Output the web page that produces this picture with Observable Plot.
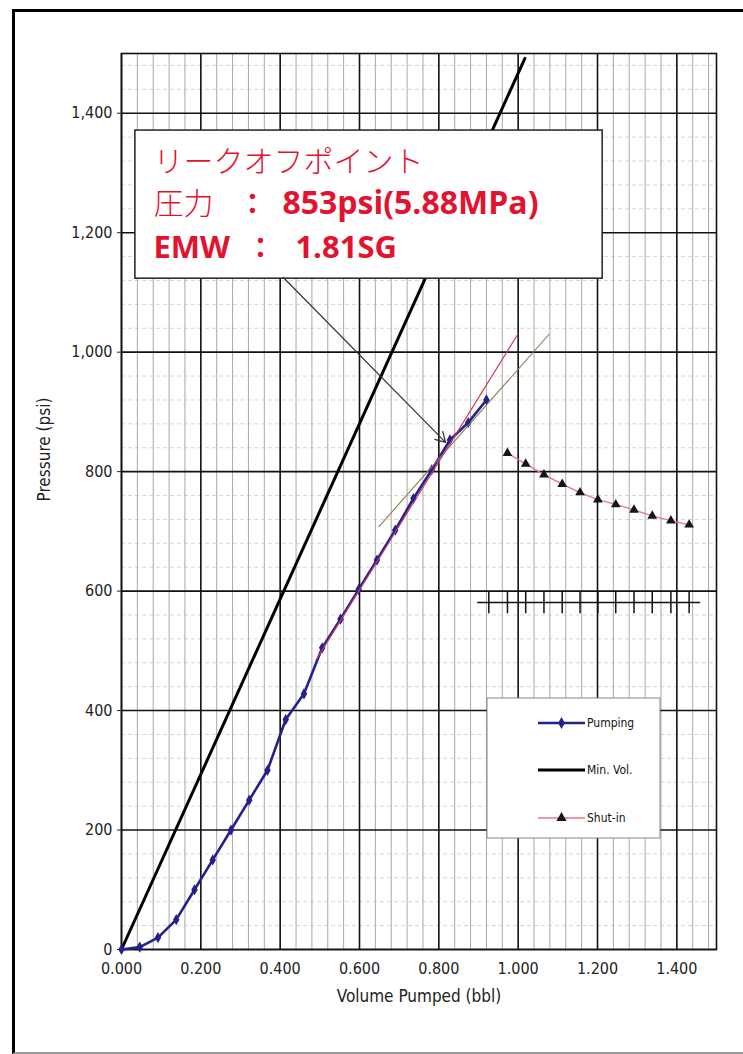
<!DOCTYPE html>
<html>
<head>
<meta charset="utf-8">
<script src="https://cdn.jsdelivr.net/npm/d3@7"></script>
<script src="https://cdn.jsdelivr.net/npm/@observablehq/plot@0.6"></script>
<style>
  body { margin: 0; background: #fff; }
  #wrap { position: relative; width: 743px; height: 1054px; overflow: hidden; background: #fff; }
  #wrap svg { position: absolute; left: 0; top: 0; }
  #border { position: absolute; left: 12px; top: 9px; width: 780px; height: 1040px;
            border-left: 3px solid #000; border-top: 3px solid #000; border-bottom: 2px solid #999;
            pointer-events: none; }
</style>
</head>
<body>
<div id="wrap"><div id="border"></div></div>
<script>
// Leak-off test: pumping record, minimum-volume reference and shut-in decline
const pumpVolume = [0, 0.046, 0.092, 0.138, 0.184, 0.230, 0.276, 0.322, 0.368, 0.414, 0.460,
                    0.506, 0.552, 0.598, 0.644, 0.690, 0.736, 0.782, 0.828, 0.874, 0.920];
const pumpPressure = [0, 4, 20, 50, 100, 150, 200, 250, 300, 385, 428,
                      505, 553, 603, 652, 702, 755, 803, 853, 882, 920];

const minVolVolume = [0, 1.017];
const minVolPressure = [0, 1492];

const shutinVolume = [0.973, 1.019, 1.065, 1.111, 1.156, 1.201, 1.246, 1.292, 1.338, 1.385, 1.431];
const shutinPressure = [831, 813, 795, 779, 765, 753, 745, 736, 726, 718, 711];

// shut-in time scale drawn across the 600 psi line
const shutinTickVolume = [0.926, 0.973, 1.019, 1.065, 1.111, 1.156, 1.201, 1.246, 1.292, 1.338, 1.385, 1.431];
const shutinScaleSpan = [0.898, 1.460];
const shutinScaleLevel = 581;
const shutinTickSpan = [562, 598];

// straight-line fits either side of the leak-off point
const steepFitVolume = [0.490, 0.999];
const steepFitPressure = [484, 1030];
const shallowFitVolume = [0.649, 1.078];
const shallowFitPressure = [708, 1030];

// leak-off callout
const leakOffVolume = 0.817;
const leakOffPressure = 849;
const calloutTail = [0.408, 1125];
const calloutBox = {x1: 0.035, x2: 1.213, y1: 1123, y2: 1371};
const calloutTitle = "リークオフポイント";
const pressureLabel = "圧力";
const pressureValue = "853psi(5.88MPa)";
const emwLabel = "EMW";
const emwValue = "1.81SG";

const xMajor = [0, 0.2, 0.4, 0.6, 0.8, 1.0, 1.2, 1.4];
const yMajor = [0, 200, 400, 600, 800, 1000, 1200, 1400];
const xMinor = d3.range(0, 1.5001, 0.04).filter(v => Math.abs(v / 0.2 - Math.round(v / 0.2)) > 1e-6);
const yMinor = d3.range(0, 1500.1, 40).filter(v => v % 200 !== 0);

const seriesNames = ["Pumping", "Min. Vol.", "Shut-in"];
const seriesColors = ["#24208c", "#000000", "#e0788a"];

const pumping = pumpVolume.map((v, i) => ({v, p: pumpPressure[i]}));
const minVol = minVolVolume.map((v, i) => ({v, p: minVolPressure[i]}));
const shutin = shutinVolume.map((v, i) => ({v, p: shutinPressure[i]}));
const steepFit = steepFitVolume.map((v, i) => ({v, p: steepFitPressure[i]}));
const shallowFit = shallowFitVolume.map((v, i) => ({v, p: shallowFitPressure[i]}));

const red = "#e3132f";
const narrow = "'Liberation Sans Narrow', 'DejaVu Sans Condensed', sans-serif";
const bold = "'Open Sans', Lato, sans-serif";
const jp = "'Noto Sans CJK JP', sans-serif";

const plot = Plot.plot({
  width: 743,
  height: 1054,
  marginLeft: 121,
  marginRight: 27,
  marginTop: 53,
  marginBottom: 105,
  style: {fontFamily: narrow, fontSize: "16px", color: "#222", background: "transparent"},
  x: {domain: [0, 1.5]},
  y: {domain: [0, 1500]},
  marks: [
    Plot.ruleY(yMinor, {stroke: "#d6d6d6", strokeWidth: 1, strokeDasharray: "4,3"}),
    Plot.ruleX(xMinor, {stroke: "#a8a8a8", strokeWidth: 1}),
    Plot.ruleX(xMajor, {stroke: "#111", strokeWidth: 1.6}),
    Plot.ruleY(yMajor, {stroke: "#111", strokeWidth: 1.6}),
    Plot.frame({stroke: "#111", strokeWidth: 1.6}),
    Plot.axisX({ticks: xMajor, tickFormat: d3.format(".3f"), tickSize: 0, tickPadding: 13, label: null}),
    Plot.axisY({ticks: yMajor, tickFormat: d3.format(","), tickSize: 4, tickPadding: 5, label: null}),
    Plot.text(["Volume Pumped (bbl)"], {frameAnchor: "bottom", dy: 52, fontSize: 17, fill: "#222"}),
    Plot.text(["Pressure (psi)"], {frameAnchor: "left", dx: -77, rotate: -90, fontSize: 17, fill: "#222"}),

    // shut-in time scale
    Plot.ruleY([shutinScaleLevel], {x1: shutinScaleSpan[0], x2: shutinScaleSpan[1], stroke: "#111", strokeWidth: 1.6}),
    Plot.ruleX(shutinTickVolume, {y1: shutinTickSpan[0], y2: shutinTickSpan[1], stroke: "#111", strokeWidth: 1.5}),

    Plot.line(minVol, {x: "v", y: "p", stroke: seriesColors[1], strokeWidth: 3}),
    Plot.line(pumping, {x: "v", y: "p", stroke: seriesColors[0], strokeWidth: 2.6}),
    Plot.dot(pumping, {x: "v", y: "p", symbol: "diamond", r: 3.4, fill: seriesColors[0], stroke: "none"}),
    Plot.line(shallowFit, {x: "v", y: "p", stroke: "#8c7b52", strokeWidth: 1.1}),
    Plot.line(steepFit, {x: "v", y: "p", stroke: "#cc3a62", strokeWidth: 1.2}),
    Plot.line(shutin, {x: "v", y: "p", stroke: seriesColors[2], strokeWidth: 1.3}),
    Plot.dot(shutin, {x: "v", y: "p", symbol: "triangle", r: 3.6, fill: "#151515", stroke: "none"}),

    // callout
    Plot.rect([calloutBox], {x1: "x1", x2: "x2", y1: "y1", y2: "y2", fill: "#fff", stroke: "#222", strokeWidth: 1.5}),
    Plot.text([calloutTitle], {x: calloutBox.x1, y: calloutBox.y2, dx: 18, dy: 41, textAnchor: "start", lineAnchor: "bottom",
      fontFamily: jp, fontSize: 30, fontWeight: 300, fill: red}),
    Plot.text([pressureLabel], {x: calloutBox.x1, y: calloutBox.y2, dx: 18, dy: 83, textAnchor: "start", lineAnchor: "bottom",
      fontFamily: jp, fontSize: 30, fontWeight: 300, fill: red}),
    Plot.text(["："], {x: calloutBox.x1, y: calloutBox.y2, dx: 117, dy: 83, textAnchor: "middle", lineAnchor: "bottom",
      fontFamily: jp, fontSize: 28, fontWeight: "bold", fill: red}),
    Plot.text([pressureValue], {x: calloutBox.x1, y: calloutBox.y2, dx: 147, dy: 83, textAnchor: "start", lineAnchor: "bottom",
      fontFamily: bold, fontSize: 32, fontWeight: "bold", fill: red}),
    Plot.text([emwLabel], {x: calloutBox.x1, y: calloutBox.y2, dx: 18, dy: 127, textAnchor: "start", lineAnchor: "bottom",
      fontFamily: bold, fontSize: 31, fontWeight: "bold", fill: red}),
    Plot.text(["："], {x: calloutBox.x1, y: calloutBox.y2, dx: 125, dy: 127, textAnchor: "middle", lineAnchor: "bottom",
      fontFamily: jp, fontSize: 28, fontWeight: "bold", fill: red}),
    Plot.text([emwValue], {x: calloutBox.x1, y: calloutBox.y2, dx: 160, dy: 127, textAnchor: "start", lineAnchor: "bottom",
      fontFamily: bold, fontSize: 31, fontWeight: "bold", fill: red}),
    Plot.arrow([{}], {x1: calloutTail[0], y1: calloutTail[1], x2: leakOffVolume, y2: leakOffPressure,
      stroke: "#333", strokeWidth: 1.2, headLength: 14, bend: 0})
  ]
});

// legend box inside the plot frame
const svg = d3.select(plot);
const lg = svg.append("g").attr("transform", "translate(487,698)").attr("text-anchor", "start");
lg.append("rect").attr("width", 173).attr("height", 140).attr("fill", "#fff").attr("stroke", "#888").attr("stroke-width", 1);
const rowY = [25, 72, 120];
const symbols = [d3.symbolDiamond, null, d3.symbolTriangle];
const widths = [2.6, 3, 1.3];
seriesNames.forEach((name, i) => {
  const row = lg.append("g").attr("transform", `translate(0,${rowY[i]})`);
  row.append("line").attr("x1", 51).attr("x2", 98).attr("stroke", seriesColors[i]).attr("stroke-width", widths[i]);
  if (symbols[i]) {
    row.append("path").attr("transform", "translate(74.5,0)")
      .attr("d", d3.symbol(symbols[i], i === 0 ? 40 : 45)())
      .attr("fill", i === 0 ? seriesColors[0] : "#151515");
  }
  row.append("text").attr("x", 100).attr("dy", "0.35em").attr("text-anchor", "start")
    .attr("font-family", narrow).attr("font-size", 12).attr("fill", "#111").text(name);
});

document.getElementById("wrap").appendChild(plot);
</script>
</body>
</html>
